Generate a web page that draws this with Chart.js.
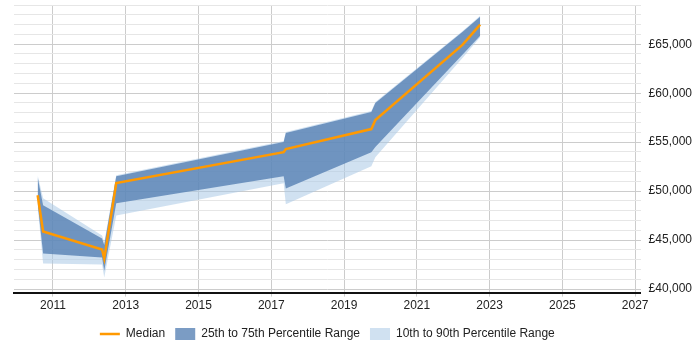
<!DOCTYPE html>
<html>
<head>
<meta charset="utf-8">
<script src="https://cdn.jsdelivr.net/npm/chart.js@4/dist/chart.umd.min.js"></script>
<style>
  html, body { margin: 0; padding: 0; background: #fff; }
  #wrap { width: 700px; height: 350px; }
</style>
</head>
<body>
<div id="wrap"><canvas id="salaryChart"></canvas></div>
<script>
// time points (decimal years) and salary percentiles
const years  = [2010.58, 2010.73, 2012.35, 2012.41, 2012.74, 2017.34, 2017.40, 2019.75, 2019.86, 2022.26, 2022.74];
const median = [49580, 45890, 44050, 43120, 50840, 53980, 54290, 56340, 57260, 64950, 67000];
const p25    = [48760, 43640, 43220, 41890, 48760, 51530, 50280, 53980, 54500, 63960, 65870];
const p75    = [51420, 48560, 45170, 44500, 51530, 55010, 55930, 58080, 59000, 66260, 67790];
const p10    = [48450, 42610, 42510, 41180, 47530, 50810, 48660, 52550, 53470, 63620, 65700];
const p90    = [51630, 49270, 45480, 44800, 51630, 55110, 56030, 58180, 59110, 66350, 67900];

const xTicks = [2011, 2013, 2015, 2017, 2019, 2021, 2023, 2025, 2027];
const yTicks = [];
for (let v = 40000; v <= 69000; v += 1000) yTicks.push(v);

const pts = arr => arr.map((v, i) => ({ x: years[i], y: v }));

const band = (label, data, color, fill) => ({
  label: label,
  data: pts(data),
  borderColor: 'transparent',
  borderWidth: 0,
  backgroundColor: color,
  pointRadius: 0,
  pointStyle: 'rect',
  fill: fill,
  tension: 0
});

const ctx = document.getElementById('salaryChart').getContext('2d');
new Chart(ctx, {
  type: 'line',
  data: {
    datasets: [
      {
        label: 'Median',
        data: pts(median),
        borderColor: '#ff9900',
        backgroundColor: '#ff9900',
        borderWidth: 2.5,
        pointRadius: 0,
        pointStyle: 'line',
        fill: false,
        tension: 0
      },
      band('25th to 75th Percentile Range', p75, 'rgba(79,123,176,0.75)', '+1'),
      band('p25', p25, 'rgba(79,123,176,0.75)', false),
      band('10th to 90th Percentile Range', p90, 'rgba(170,200,230,0.55)', '+1'),
      band('p10', p10, 'rgba(170,200,230,0.55)', false)
    ]
  },
  options: {
    responsive: true,
    maintainAspectRatio: false,
    animation: false,
    layout: { padding: { left: 14, top: 5, right: 0, bottom: 0 } },
    scales: {
      x: {
        type: 'linear',
        min: 2009.93,
        max: 2027.15,
        afterBuildTicks: axis => { axis.ticks = xTicks.map(v => ({ value: v })); },
        afterFit: axis => { axis.height += 3; },
        ticks: {
          color: '#222',
          font: { family: 'Liberation Sans, Arial, sans-serif', size: 12 },
          padding: 2,
          maxRotation: 0,
          callback: v => String(v)
        },
        grid: { color: '#cccccc', tickLength: 4 },
        border: { color: '#111', width: 2 }
      },
      y: {
        position: 'right',
        min: 39650,
        max: 69000,
        afterBuildTicks: axis => { axis.ticks = yTicks.map(v => ({ value: v })); },
        afterFit: axis => { axis.paddingTop = 0; },
        ticks: {
          color: '#222',
          font: { family: 'Liberation Sans, Arial, sans-serif', size: 12 },
          padding: 8,
          autoSkip: false,
          callback: v => v % 5000 === 0 ? '£' + v.toLocaleString('en-GB') : ''
        },
        grid: {
          drawTicks: false,
          color: c => (c.tick && c.tick.value % 5000 === 0) ? '#cccccc' : '#e6e6e6'
        },
        border: { display: false }
      }
    },
    plugins: {
      tooltip: { enabled: false },
      legend: {
        position: 'bottom',
        fullSize: false,
        labels: {
          color: '#222',
          font: { family: 'Liberation Sans, Arial, sans-serif', size: 12 },
          usePointStyle: true,
          pointStyleWidth: 20,
          boxHeight: 14,
          padding: 10,
          filter: item => item.datasetIndex !== 2 && item.datasetIndex !== 4
        }
      }
    }
  }
});
</script>
</body>
</html>
